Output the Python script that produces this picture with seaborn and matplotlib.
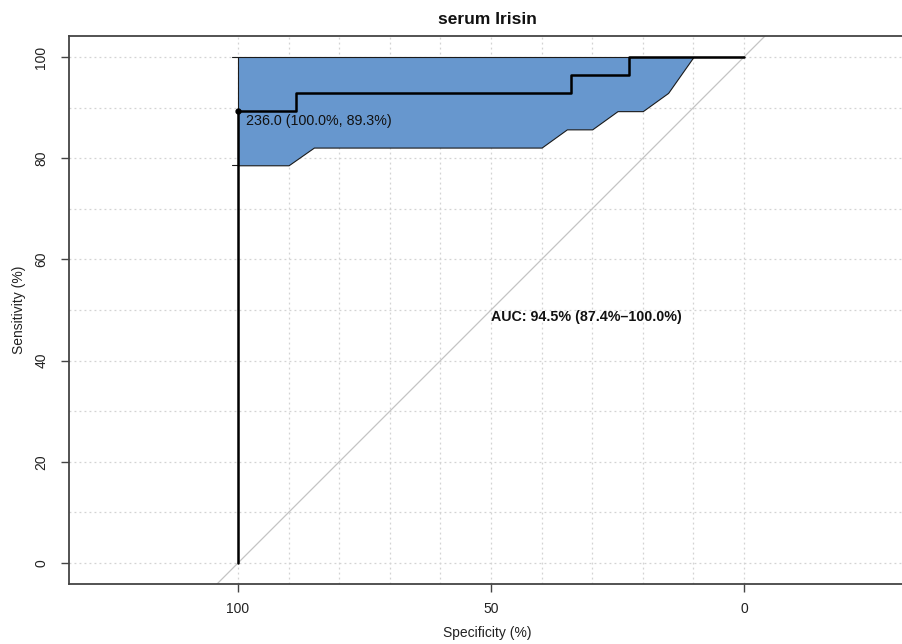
import numpy as np
import pandas as pd
import matplotlib
matplotlib.use("Agg")
import matplotlib.pyplot as plt
import seaborn as sns

# ---- data ----
roc_specificity = [100, 100, 88.6, 88.6, 34.1, 34.1, 22.7, 22.7, 0]
roc_sensitivity = [0, 89.3, 89.3, 92.9, 92.9, 96.4, 96.4, 100, 100]

ci_specificity = [100, 95, 90, 85, 80, 75, 70, 65, 60, 55, 50, 45, 40, 35, 30, 25, 20, 15, 10, 5, 0]
ci_se_lower = [78.6, 78.6, 78.6, 82.1, 82.1, 82.1, 82.1, 82.1, 82.1, 82.1, 82.1, 82.1, 82.1,
               85.7, 85.7, 89.3, 89.3, 92.9, 100, 100, 100]
ci_se_upper = [100] * len(ci_specificity)

best_threshold = 236.0
best_specificity = 100.0
best_sensitivity = 89.3

auc_value = 94.5
auc_ci = (87.4, 100.0)

title = "serum Irisin"
x_ticks = [100, 50, 0]
y_ticks = [0, 20, 40, 60, 80, 100]

# ---- style ----
sns.set_theme(style="white")
plt.rcParams['font.family'] = ['Liberation Sans', 'DejaVu Sans']

W, H = 903, 644
fig = plt.figure(figsize=(W / 100, H / 100), dpi=100)
left_px, right_px, top_px, bottom_px = 69, 906, 36, 584
ax = fig.add_axes([left_px / W, 1 - bottom_px / H, (right_px - left_px) / W, (bottom_px - top_px) / H])

scale = 5.06  # px per unit
x_left = 100 + (238 - left_px) / scale
x_right = 0 - (right_px - 744) / scale
ax.set_xlim(x_left, x_right)
pad_y = (584 - 563) / scale
ax.set_ylim(-pad_y, 100 + pad_y)

# grid (dotted light grey)
grid_col = "#D3D3D3"
for g in range(0, 101, 10):
    ax.axhline(g, color=grid_col, lw=0.9, ls=(0, (1.5, 2.5)), zorder=0)
    ax.axvline(g, color=grid_col, lw=0.9, ls=(0, (1.5, 2.5)), zorder=0)

# CI band
ax.fill_between(ci_specificity, ci_se_lower, ci_se_upper, facecolor="#6797CE",
                edgecolor="#1a1a1a", linewidth=0.8, zorder=2)
# small bar hats at the left of the band
hat = 1.2
ax.plot([ci_specificity[0] + hat, ci_specificity[0]], [ci_se_lower[0]] * 2, color="#1a1a1a", lw=0.8, zorder=3)
ax.plot([ci_specificity[0] + hat, ci_specificity[0]], [ci_se_upper[0]] * 2, color="#1a1a1a", lw=0.8, zorder=3)

# chance diagonal
ax.axline((100, 0), (0, 100), color="#C4C4C4", lw=0.9, zorder=1)

# ROC curve
df = pd.DataFrame({"Specificity": roc_specificity, "Sensitivity": roc_sensitivity})
sns.lineplot(data=df, x="Specificity", y="Sensitivity", sort=False, estimator=None,
             color="black", lw=1.8, ax=ax, zorder=4)

# best threshold point
ax.plot([best_specificity], [best_sensitivity], "o", color="black", ms=3.5, zorder=5)
ax.text(best_specificity - 1.6, best_sensitivity - 2.0,
        f"{best_threshold:.1f} ({best_specificity:.1f}%, {best_sensitivity:.1f}%)",
        ha="left", va="center", fontsize=10.3, color="#111111", zorder=6)

# AUC text
ax.text(50, 48.6, f"AUC: {auc_value:.1f}% ({auc_ci[0]:.1f}%\u2013{auc_ci[1]:.1f}%)",
        ha="left", va="center", fontsize=10.3, fontweight="bold", color="#111111", zorder=6)

# axes styling
ax.set_xticks(x_ticks)
ax.set_yticks(y_ticks)
ax.set_xticklabels([str(t) for t in x_ticks])
ax.set_yticklabels([str(t) for t in y_ticks], rotation=90, va="center")
ax.tick_params(axis="both", which="major", length=6, width=1.0, color="#444444",
               direction="out", labelsize=10, labelcolor="#222222")
ax.tick_params(axis="x", pad=7)
ax.tick_params(axis="y", pad=9)
ax.xaxis.set_ticks_position("bottom")
ax.yaxis.set_ticks_position("left")
for s in ["left", "bottom", "top", "right"]:
    ax.spines[s].set_color("#444444")
    ax.spines[s].set_linewidth(1.3)
    ax.spines[s].set_visible(True)

ax.set_xlabel("Specificity (%)", fontsize=10, color="#222222", labelpad=7)
ax.set_ylabel("Sensitivity (%)", fontsize=10, color="#222222", labelpad=6)
ax.set_title(title, fontsize=12.5, fontweight="bold", pad=9, color="#111111")

fig.savefig("out.png", dpi=100)
